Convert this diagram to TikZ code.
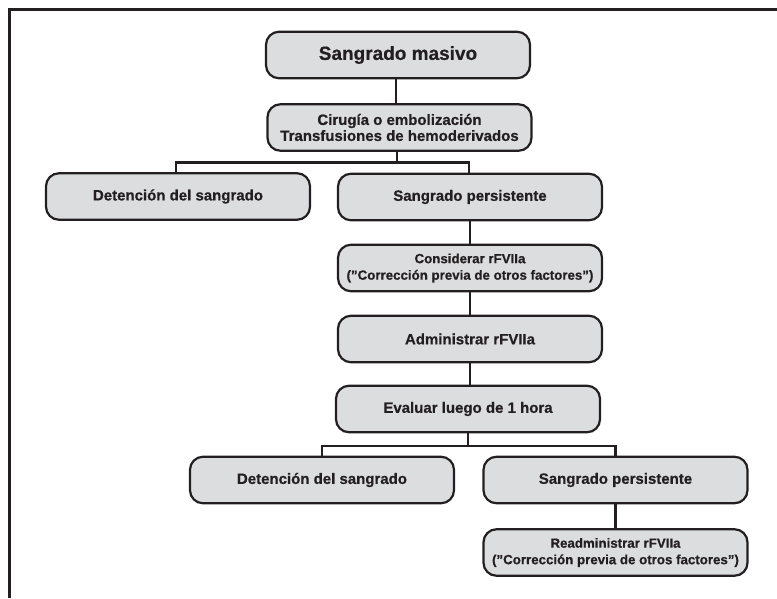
\documentclass[tikz,border=0pt]{standalone}
\usepackage{fontspec}
\setmainfont{Liberation Sans}[BoldFeatures={FakeBold=0.6}]
\definecolor{boxfill}{RGB}{220,221,223}
\definecolor{ink}{RGB}{35,31,32}
\begin{document}
\begin{tikzpicture}[x=1pt,y=-1pt,
  box/.style={draw=ink, line width=2.2pt, fill=boxfill, rounded corners=13pt,
    minimum width=264pt, minimum height=46.5pt, inner sep=0pt, align=center,
    text=ink, font=\bfseries\fontsize{15}{16}\selectfont},
  twoline/.style={font=\bfseries\fontsize{13.3}{16.5}\selectfont},
  conn/.style={draw=ink, line width=2.2pt}]
\useasboundingbox (0,0) rectangle (777,598);
\draw[line width=3.2pt, draw=ink, line join=miter] (9.5,598) -- (9.5,9.5) -- (777,9.5);

\node[box, font=\bfseries\fontsize{19}{20}\selectfont] (sm) at (398,55) {Sangrado masivo};
\node[box] (cir) at (399.5,127.5) {Cirugía o embolización\\Transfusiones de hemoderivados};
\node[box] (det1) at (178,196.5) {Detención del sangrado};
\node[box] (sp1) at (470,197) {Sangrado persistente};
\node[box, twoline] (con) at (470,268) {Considerar rFVIIa\\(”Corrección previa de otros factores”)};
\node[box] (adm) at (470,339) {Administrar rFVIIa};
\node[box] (eva) at (468,409) {Evaluar luego de 1 hora};
\node[box] (det2) at (322,480) {Detención del sangrado};
\node[box] (sp2) at (615.5,480) {Sangrado persistente};
\node[box, twoline] (rea) at (615.5,552.5) {Readministrar rFVIIa\\(”Corrección previa de otros factores”)};

\coordinate (b1) at (397,162.5);
\coordinate (b2) at (468,446);
\draw[conn] ([xshift=-2pt]sm.south) -- ([xshift=-3.5pt]cir.north);
\draw[conn] ([xshift=-2.5pt]cir.south) -- (b1);
\draw[conn] (det1.north -| 176,0) |- (b1) -| ([xshift=-1pt]sp1.north);
\draw[conn] (sp1.south) -- (con.north);
\draw[conn] (con.south) -- (adm.north);
\draw[conn] (adm.south) -- ([xshift=2pt]eva.north);
\draw[conn] (eva.south) -- (b2);
\draw[conn] (det2.north) |- (b2) -| (sp2.north);
\draw[conn] (sp2.south) -- (rea.north);
\end{tikzpicture}
\end{document}
